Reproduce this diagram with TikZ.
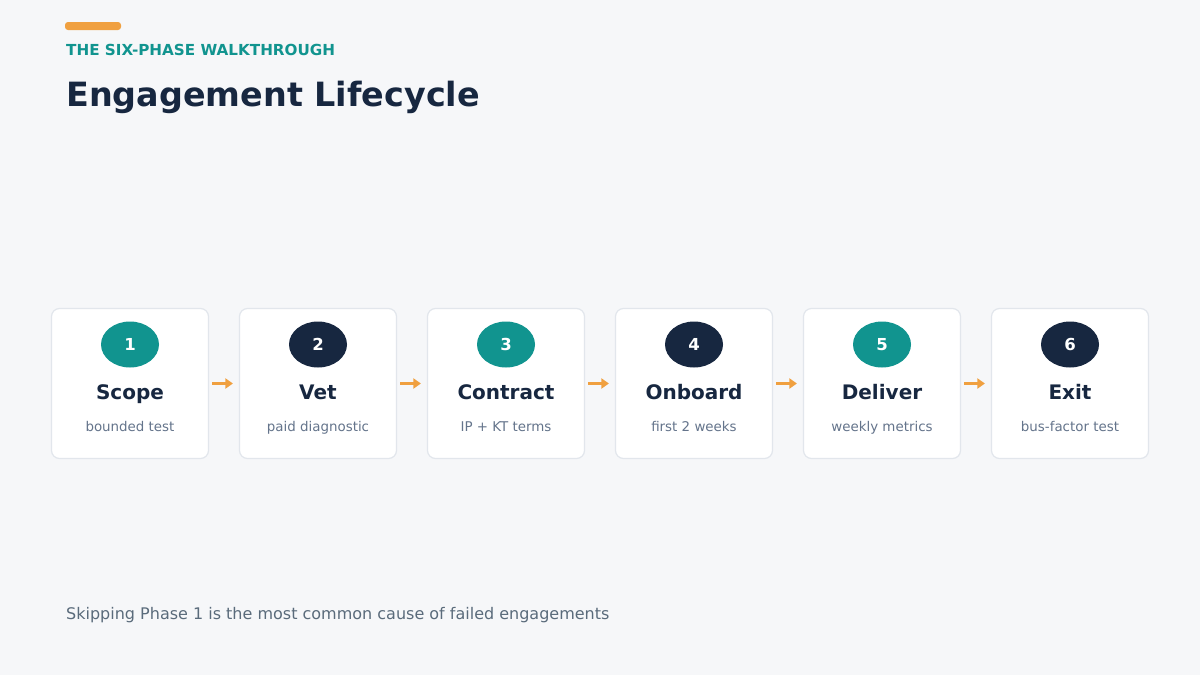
\documentclass[tikz,border=0pt]{standalone}
\usepackage{fontspec}
\setmainfont{DejaVu Sans}
\usetikzlibrary{arrows.meta}
\definecolor{bg}{HTML}{F6F7F9}
\definecolor{teal}{HTML}{11948F}
\definecolor{navy}{HTML}{172740}
\definecolor{orange}{HTML}{F0A040}
\definecolor{subgray}{HTML}{64748B}
\definecolor{footgray}{HTML}{5A6B7B}
\definecolor{border}{HTML}{E2E6EC}
\tikzset{
  card/.style={draw=border, line width=1.2pt, fill=white, rounded corners=8pt, minimum width=157pt, minimum height=150pt, inner sep=0pt},
  numtxt/.style={text=white, font=\bfseries\fontsize{16.5}{18}\selectfont},
  ttl/.style={text=navy, font=\bfseries\fontsize{20}{22}\selectfont},
  sub/.style={text=subgray, font=\fontsize{13.4}{15}\selectfont},
  flow/.style={draw=orange, line width=2.6pt, -{Triangle[length=7.5pt,width=10pt]}},
}
\begin{document}
\begin{tikzpicture}[x=1pt,y=-1pt]
\useasboundingbox[fill=bg] (0,0) rectangle (1200,675);
\fill[orange, rounded corners=3pt] (65,22) rectangle (121,30);
\node[anchor=base west, inner sep=0pt, text=teal, font=\bfseries\fontsize{15.2}{18}\selectfont] (kicker) at (66,55.5) {THE SIX-PHASE WALKTHROUGH};
\node[anchor=base west, inner sep=0pt, text=navy, font=\bfseries\fontsize{33.4}{40}\selectfont] (title) at (66,106) {Engagement Lifecycle};
\foreach \i/\t/\s/\c in {1/Scope/bounded test/teal, 2/Vet/paid diagnostic/navy, 3/Contract/IP + KT terms/teal, 4/Onboard/first 2 weeks/navy, 5/Deliver/weekly metrics/teal, 6/Exit/bus-factor test/navy}{
  \pgfmathsetmacro{\cx}{130+188*(\i-1)}
  \node[card] (card\i) at (\cx,383.5) {};
  \fill[\c] (\cx,344.5) ellipse [x radius=29, y radius=23];
  \node[numtxt, anchor=base] (num\i) at (\cx,350.5) {\i};
  \node[ttl, anchor=base] (ttl\i) at (\cx,399) {\t};
  \node[sub, anchor=base] (sub\i) at (\cx,431) {\s};
}
\foreach \i [evaluate=\i as \j using int(\i+1)] in {1,...,5}{
  \draw[flow] ([xshift=3pt]card\i.east) -- ([xshift=-6pt]card\j.west);
}
\node[anchor=base west, inner sep=0pt, text=footgray, font=\fontsize{16}{19}\selectfont] (foot) at (66,619) {Skipping Phase 1 is the most common cause of failed engagements};
\end{tikzpicture}
\end{document}
